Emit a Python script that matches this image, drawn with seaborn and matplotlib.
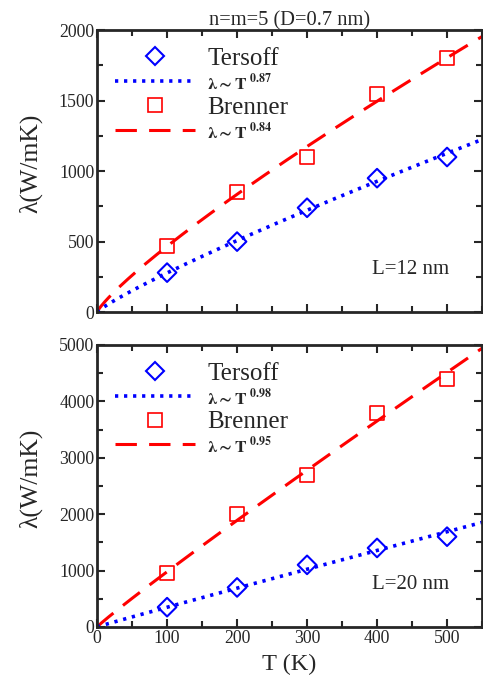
import numpy as np
import pandas as pd
import matplotlib
matplotlib.use('Agg')
import matplotlib.pyplot as plt
import seaborn as sns
from matplotlib.lines import Line2D
from matplotlib.ticker import MultipleLocator

# data
T = [100, 200, 300, 400, 500]
tersoff_12 = [280, 500, 740, 950, 1100]
brenner_12 = [470, 850, 1100, 1550, 1800]
tersoff_20 = [350, 700, 1100, 1400, 1600]
brenner_20 = [950, 2000, 2700, 3800, 4400]

# exponents of the power-law fits
exp_tersoff_12, exp_brenner_12 = 0.87, 0.84
exp_tersoff_20, exp_brenner_20 = 0.98, 0.95

sns.set_style('ticks')
plt.rcParams['font.family'] = ['Liberation Serif', 'DejaVu Serif']
plt.rcParams['mathtext.fontset'] = 'stix'

BLUE = '#0000ff'
RED = '#ff0000'
DASH = (0, (7, 4))
DOT = (0, (0.9, 1.6))


def fit_prefactor(t, y, b):
    # least squares for y = a * t^b with b fixed
    x = np.asarray(t, float) ** b
    y = np.asarray(y, float)
    return (x * y).sum() / (x * x).sum()


def panel(ax, ter, bren, b_ter, b_bren, ymax, major, minor, Ltext):
    df = pd.DataFrame({'T': T, 'Tersoff': ter, 'Brenner': bren})
    tgrid = np.linspace(0, 550, 200)
    a_t = fit_prefactor(T, ter, b_ter)
    a_b = fit_prefactor(T, bren, b_bren)
    fits = pd.DataFrame({'T': tgrid,
                         'ft': a_t * tgrid ** b_ter,
                         'fb': a_b * tgrid ** b_bren})

    sns.lineplot(data=fits, x='T', y='fb', ax=ax, color=RED, lw=2.2,
                 linestyle=DASH)
    sns.lineplot(data=fits, x='T', y='ft', ax=ax, color=BLUE, lw=2.6,
                 linestyle=DOT)
    sns.scatterplot(data=df, x='T', y='Tersoff', ax=ax, marker='D', s=90,
                    facecolor='none', edgecolor=BLUE, linewidth=1.5, zorder=5)
    sns.scatterplot(data=df, x='T', y='Brenner', ax=ax, marker='s', s=100,
                    facecolor='none', edgecolor=RED, linewidth=1.2, zorder=5)

    ax.set_xlim(0, 550)
    ax.set_ylim(0, ymax)
    ax.xaxis.set_major_locator(MultipleLocator(100))
    ax.xaxis.set_minor_locator(MultipleLocator(50))
    ax.yaxis.set_major_locator(MultipleLocator(major))
    ax.yaxis.set_minor_locator(MultipleLocator(minor))
    ax.tick_params(which='both', direction='in', top=True, right=True,
                   labelsize=12.8, width=1.5, pad=2)
    ax.tick_params(which='major', length=6)
    ax.tick_params(which='minor', length=4)
    for s in ax.spines.values():
        s.set_linewidth(2)
    ax.set_ylabel('λ(W/mK)', fontsize=18.5)
    ax.yaxis.set_label_coords(-0.142, 0.528)
    ax.set_xlabel('')
    ax.text(0.715, 0.135, Ltext, transform=ax.transAxes, fontsize=15)

    handles = [
        Line2D([], [], marker='D', ls='none', mfc='none', mec=BLUE, ms=9, mew=1.5),
        Line2D([], [], color=BLUE, lw=2.6, ls=DOT),
        Line2D([], [], marker='s', ls='none', mfc='none', mec=RED, ms=10, mew=1.2),
        Line2D([], [], color=RED, lw=2.2, ls=DASH),
    ]
    labels = ['Tersoff',
              r'$\mathbf{\lambda{\sim}T}^{\ \mathbf{%.2f}}$' % b_ter,
              'Brenner',
              r'$\mathbf{\lambda{\sim}T}^{\ \mathbf{%.2f}}$' % b_bren]
    leg = ax.legend(handles, labels, loc='upper left', frameon=False,
                    fontsize=18, handlelength=3.2, handletextpad=0.5,
                    labelspacing=0.09, borderaxespad=0.3, borderpad=0.4,
                    bbox_to_anchor=(0.0, 1.0))
    for i in (1, 3):
        leg.get_texts()[i].set_fontsize(12.4)


fig = plt.figure(figsize=(4.83, 6.77), dpi=100)
ax1 = fig.add_axes([0.201, 0.539, 0.797, 0.4165])
ax2 = fig.add_axes([0.201, 0.074, 0.797, 0.4165])

panel(ax1, tersoff_12, brenner_12, exp_tersoff_12, exp_brenner_12,
      2000, 500, 250, 'L=12 nm')
panel(ax2, tersoff_20, brenner_20, exp_tersoff_20, exp_brenner_20,
      5000, 1000, 500, 'L=20 nm')

ax1.tick_params(labelbottom=False)
ax1.set_title('n=m=5 (D=0.7 nm)', fontsize=14.8, pad=3)
ax2.set_xlabel('T (K)', fontsize=17.6, labelpad=5)

fig.savefig('out.png', dpi=100)
